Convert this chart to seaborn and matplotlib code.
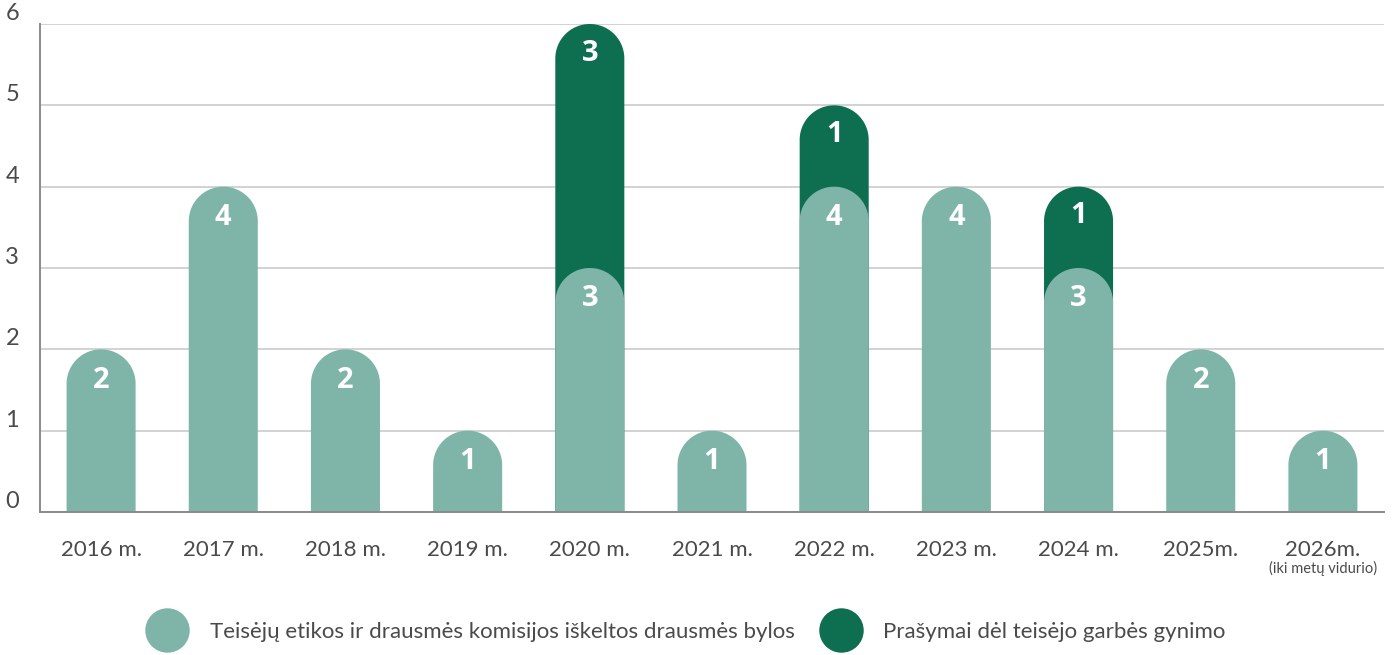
import numpy as np
import matplotlib
matplotlib.use("Agg")
import matplotlib.pyplot as plt
import seaborn as sns
from matplotlib.patches import Polygon
from matplotlib.lines import Line2D

# ── data ─────────────────────────────────────────────────────────────────────
YEARS    = ["2016 m.", "2017 m.", "2018 m.", "2019 m.", "2020 m.", "2021 m.",
            "2022 m.", "2023 m.", "2024 m.", "2025m.", "2026m."]
BYLOS    = [2, 4, 2, 1, 3, 1, 4, 4, 3, 2, 1]   # komisijos iškeltos bylos
PRASYMAI = [0, 0, 0, 0, 3, 0, 1, 0, 1, 0, 0]   # prašymai dėl garbės gynimo
LABELS   = ["Teisėjų etikos ir drausmės komisijos iškeltos drausmės bylos",
            "Prašymai dėl teisėjo garbės gynimo"]
NOTE_2026 = "(iki metų vidurio)"

LIGHT = "#7fb5a8"
DARK  = "#0e6e50"
TXT   = "#4a4a4a"
BAR_W = 0.565

totals = [a + b for a, b in zip(BYLOS, PRASYMAI)]

sns.set_style("white")
plt.rcParams["font.family"] = ["Lato", "DejaVu Sans"]

fig = plt.figure(figsize=(13.95, 6.55), dpi=100)
ax = fig.add_axes([40 / 1395, 1 - 512 / 655, 1344 / 1395, 488 / 655])

# dark bars (total) first, light bars on top
sns.barplot(x=YEARS, y=totals, color=DARK, width=BAR_W, saturation=1, ax=ax)
sns.barplot(x=YEARS, y=BYLOS, color=LIGHT, width=BAR_W, saturation=1, ax=ax)

ax.set_xlim(-0.5, len(YEARS) - 0.5)
ax.set_ylim(0, 6)

# hide dark bars that are fully covered (avoid antialias fringe)
n = len(YEARS)
for p, t in zip(ax.patches[:n], PRASYMAI):
    if t == 0:
        p.set_visible(False)

# rounded tops: semicircle with radius = half bar width (in pixels)
fig.canvas.draw()
px_x = ax.transData.transform([(1, 0)])[0][0] - ax.transData.transform([(0, 0)])[0][0]
px_y = ax.transData.transform([(0, 1)])[0][1] - ax.transData.transform([(0, 0)])[0][1]
ry = (BAR_W / 2) * px_x / px_y

theta = np.linspace(np.pi, 0, 80)
for p in list(ax.patches):
    h = p.get_height()
    if h <= 0 or not p.get_visible():
        continue
    x0, w = p.get_x(), p.get_width()
    cx, cy = x0 + w / 2, h - ry
    arc = np.column_stack([cx + (w / 2) * np.cos(theta), cy + ry * np.sin(theta)])
    verts = np.vstack([[x0, 0], arc, [x0 + w, 0]])
    ax.add_patch(Polygon(verts, closed=True, facecolor=p.get_facecolor(),
                         edgecolor="none", zorder=p.get_zorder()))
    p.set_visible(False)

# value labels
lab_kw = dict(ha="center", va="center", color="white", fontsize=21,
              fontweight="bold", family=["Open Sans", "DejaVu Sans"])
for i, (b, t) in enumerate(zip(BYLOS, PRASYMAI)):
    ax.text(i, b - 0.38, str(b), **lab_kw)
    if t:
        ax.text(i, b + t - 0.36, str(t), **lab_kw)

# grid / spines / ticks
ax.set_yticks(range(0, 7))
ax.yaxis.grid(True, color="#d2d2d2", linewidth=1.4, zorder=0)
ax.set_axisbelow(True)
for s in ["top", "right"]:
    ax.spines[s].set_visible(False)
for s in ["left", "bottom"]:
    ax.spines[s].set_color("#8a8a8a")
    ax.spines[s].set_linewidth(1.4)

ax.set_xticks(np.arange(0.5, len(YEARS) - 0.5, 1), minor=True)
ax.tick_params(axis="x", which="major", length=0, pad=20, labelsize=16, labelcolor=TXT)
ax.tick_params(axis="x", which="minor", direction="in", length=14, width=1.2, color="#8a8a8a")
ax.tick_params(axis="y", length=0, pad=15, labelsize=17, labelcolor=TXT)
for lbl in ax.get_yticklabels():
    lbl.set_verticalalignment("bottom")
ax.set_xlabel("")
ax.set_ylabel("")

ax.text(len(YEARS) - 1, -0.7, NOTE_2026, ha="center", va="center",
        fontsize=10.5, color=TXT)

handles = [Line2D([], [], marker="o", linestyle="none", markersize=32,
                  markerfacecolor=c, markeredgecolor="none") for c in (LIGHT, DARK)]
fig.legend(handles, LABELS, loc="lower center", bbox_to_anchor=(0.493, -0.01), ncol=2,
           frameon=False, fontsize=16, labelcolor=TXT, handletextpad=1.1,
           columnspacing=1.3, handlelength=1.6)

fig.savefig("out.png", dpi=100)
